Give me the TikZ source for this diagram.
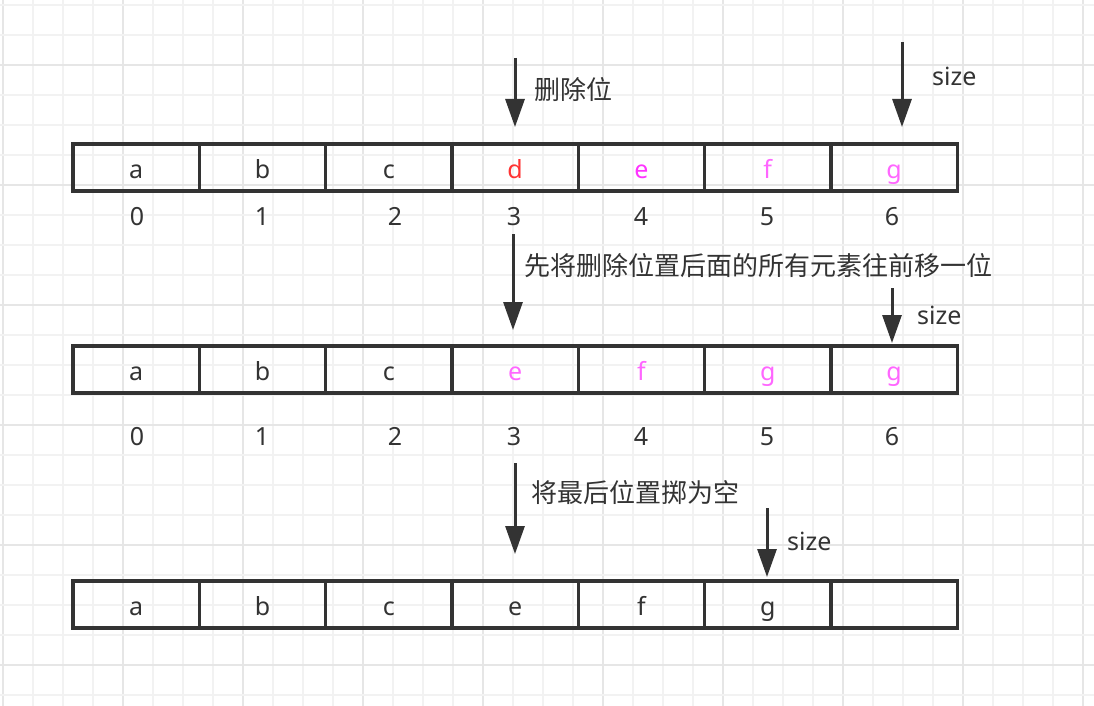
\documentclass[tikz,border=0pt]{standalone}
\usepackage{fontspec}
\setmainfont{Noto Sans}
\newfontfamily\cjk{Noto Sans CJK SC}
\usetikzlibrary{arrows.meta}
\definecolor{ink}{HTML}{333333}
\definecolor{delred}{HTML}{FF3333}
\definecolor{mvA}{HTML}{FF33FF}
\definecolor{mvB}{HTML}{FF66FF}
\definecolor{gridminor}{HTML}{F2F2F2}
\definecolor{gridmajor}{HTML}{E6E6E6}
\tikzset{
  cell/.style={draw=ink, line width=3.3pt, rectangle, minimum width=126.3pt, minimum height=47pt,
    inner sep=0pt, text height=24pt, text depth=2pt, font=\fontsize{25}{30}\selectfont, text=ink},
  idx/.style={anchor=base, inner sep=0pt, font=\fontsize{25}{30}\selectfont, text=ink},
  note/.style={anchor=base west, inner sep=0pt, font=\fontsize{26}{30}\selectfont\cjk, text=ink},
  sizelbl/.style={anchor=base west, inner sep=0pt, font=\fontsize{25}{30}\selectfont, text=ink},
  arr/.style={draw=ink, line width=3pt, -{Triangle[length=28pt,width=19pt]}},
}
\begin{document}
\begin{tikzpicture}[x=1pt,y=-1pt]
\useasboundingbox (0,0) rectangle (1094,706);
\fill[white] (0,0) rectangle (1094,706);
% grid
\foreach \i in {0,...,36} {
  \pgfmathtruncatemacro{\m}{mod(\i,4)}
  \ifnum\m=0 \draw[gridmajor, line width=1.5pt] (3+30*\i,0) -- (3+30*\i,706);
  \else \draw[gridminor, line width=1.5pt] (3+30*\i,0) -- (3+30*\i,706); \fi
}
\foreach \j in {0,...,23} {
  \pgfmathtruncatemacro{\m}{mod(\j+2,4)}
  \ifnum\m=0 \draw[gridmajor, line width=1.5pt] (0,5+30*\j) -- (1094,5+30*\j);
  \else \draw[gridminor, line width=1.5pt] (0,5+30*\j) -- (1094,5+30*\j); \fi
}
% row 1
\node[cell] (r1c0) at (136.2,167.5) {a};
\node[cell] (r1c1) at (262.5,167.5) {b};
\node[cell] (r1c2) at (388.8,167.5) {c};
\node[cell, text=delred] (r1c3) at (515.1,167.5) {d};
\node[cell, text=mvA] (r1c4) at (641.4,167.5) {e};
\node[cell, text=mvB] (r1c5) at (767.7,167.5) {f};
\node[cell, text=mvB] (r1c6) at (894.0,167.5) {g};
% row 2
\node[cell] (r2c0) at (136.2,369.5) {a};
\node[cell] (r2c1) at (262.5,369.5) {b};
\node[cell] (r2c2) at (388.8,369.5) {c};
\node[cell, text=mvB] (r2c3) at (515.1,369.5) {e};
\node[cell, text=mvB] (r2c4) at (641.4,369.5) {f};
\node[cell, text=mvB] (r2c5) at (767.7,369.5) {g};
\node[cell, text=mvB] (r2c6) at (894.0,369.5) {g};
% row 3
\node[cell] (r3c0) at (136.2,604.5) {a};
\node[cell] (r3c1) at (262.5,604.5) {b};
\node[cell] (r3c2) at (388.8,604.5) {c};
\node[cell] (r3c3) at (515.1,604.5) {e};
\node[cell] (r3c4) at (641.4,604.5) {f};
\node[cell] (r3c5) at (767.7,604.5) {g};
\node[cell] (r3c6) at (894.0,604.5) {};
% indices
\node[idx] (i10) at (137,225) {0};
\node[idx] (i11) at (262,225) {1};
\node[idx] (i12) at (395,225) {2};
\node[idx] (i13) at (514,225) {3};
\node[idx] (i14) at (641,225) {4};
\node[idx] (i15) at (767,225) {5};
\node[idx] (i16) at (892,225) {6};
\node[idx] (i20) at (137,445) {0};
\node[idx] (i21) at (262,445) {1};
\node[idx] (i22) at (395,445) {2};
\node[idx] (i23) at (514,445) {3};
\node[idx] (i24) at (641,445) {4};
\node[idx] (i25) at (767,445) {5};
\node[idx] (i26) at (892,445) {6};
% arrows
\coordinate (a1s) at (515,58);  \coordinate (a1e) at (515,127);
\coordinate (s1s) at (902,42);  \coordinate (s1e) at (902,127);
\coordinate (a2s) at (513,234); \coordinate (a2e) at (513,330);
\coordinate (s2s) at (892,288); \coordinate (s2e) at (892,343);
\coordinate (a3s) at (515,463); \coordinate (a3e) at (515,554);
\coordinate (s3s) at (767,508); \coordinate (s3e) at (767,577);
\draw[arr] (a1s) -- (a1e);
\draw[arr] (s1s) -- (s1e);
\draw[arr] (a2s) -- (a2e);
\draw[arr] (s2s) -- (s2e);
\draw[arr] (a3s) -- (a3e);
\draw[arr] (s3s) -- (s3e);
% labels
\node[note] (n1) at (534,100) {删除位};
\node[sizelbl] (z1) at (932,86) {size};
\node[note] (n2) at (524,275) {先将删除位置后面的所有元素往前移一位};
\node[sizelbl] (z2) at (917,324) {size};
\node[note] (n3) at (531,502) {将最后位置掷为空};
\node[sizelbl] (z3) at (787,550) {size};
\end{tikzpicture}
\end{document}
